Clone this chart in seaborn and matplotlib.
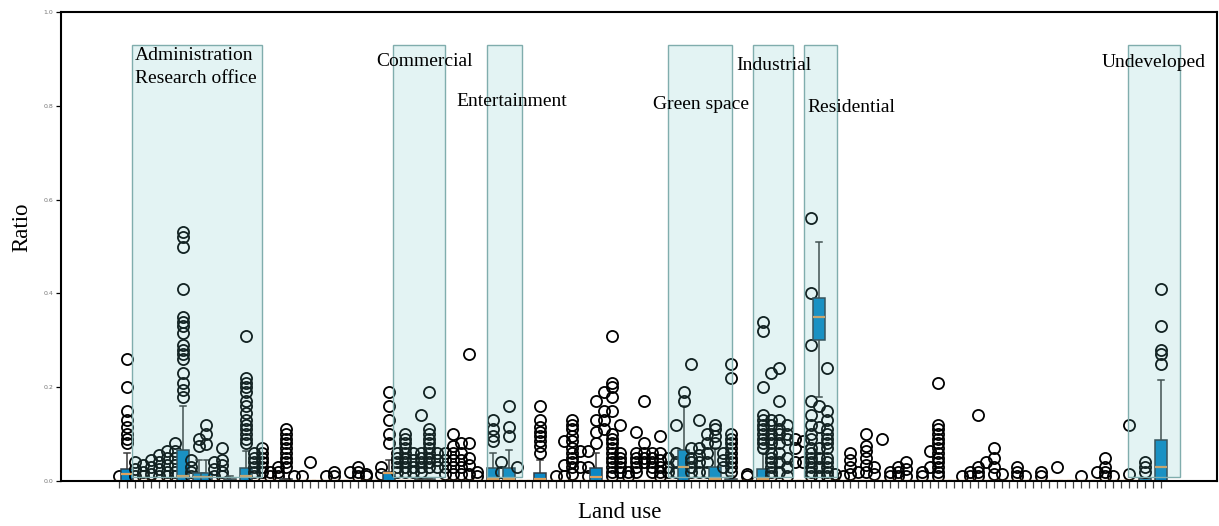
import numpy as np
import pandas as pd
import matplotlib
matplotlib.use("Agg")
import matplotlib.pyplot as plt
from matplotlib.patches import Rectangle
import seaborn as sns

# ---------------------------------------------------------------- data
n_types = 132  # land-use sub-types along the x axis

# sub-types with a visible box: index -> (q1, median, q3, lower whisker, upper whisker)
box_stats = {
    1: (0.0, 0.015, 0.026, 0.0, 0.06),
    8: (0.0, 0.01, 0.066, 0.0, 0.16),
    10: (0.0, 0.008, 0.018, 0.0, 0.044),
    11: (0.0, 0.008, 0.018, 0.0, 0.044),
    14: (0.0, 0.0, 0.005, 0.0, 0.005),
    16: (0.0, 0.01, 0.028, 0.0, 0.065),
    21: (0.0, 0.0, 0.005, 0.0, 0.005),
    34: (0.0, 0.016, 0.02, 0.0, 0.045),
    38: (0.0, 0.0, 0.005, 0.0, 0.005),
    39: (0.0, 0.0, 0.005, 0.0, 0.005),
    47: (0.0, 0.005, 0.028, 0.0, 0.06),
    49: (0.0, 0.005, 0.028, 0.0, 0.066),
    53: (0.0, 0.005, 0.018, 0.0, 0.044),
    60: (0.0, 0.008, 0.028, 0.0, 0.06),
    71: (0.0, 0.03, 0.066, 0.0, 0.16),
    75: (0.0, 0.005, 0.03, 0.0, 0.07),
    77: (0.0, 0.0, 0.005, 0.0, 0.01),
    81: (0.0, 0.005, 0.025, 0.0, 0.06),
    88: (0.30, 0.35, 0.39, 0.18, 0.51),
    129: (0.0, 0.0, 0.006, 0.0, 0.006),
    131: (0.0, 0.03, 0.088, 0.0, 0.215),
}

# outlying ratios of each sub-type
outliers = {
    0: [0.01],
    1: [0.26, 0.20, 0.15, 0.13, 0.115, 0.10, 0.09, 0.08],
    2: [0.04, 0.025, 0.01],
    3: [0.035, 0.02, 0.01],
    4: [0.045, 0.03, 0.015],
    5: [0.055, 0.04, 0.025, 0.01],
    6: [0.065, 0.05, 0.035, 0.02, 0.01],
    7: [0.08, 0.065, 0.05, 0.035, 0.02, 0.01],
    8: [0.53, 0.52, 0.50, 0.41, 0.35, 0.34, 0.33, 0.315, 0.29, 0.28, 0.27,
        0.26, 0.23, 0.21, 0.195, 0.18],
    9: [0.045, 0.03, 0.02, 0.01],
    10: [0.09, 0.075],
    11: [0.12, 0.10, 0.078],
    12: [0.04, 0.025, 0.01],
    13: [0.07, 0.045, 0.035, 0.02, 0.01],
    14: [0.01],
    16: [0.31, 0.22, 0.21, 0.20, 0.19, 0.17, 0.16, 0.145, 0.13, 0.12, 0.11,
         0.10, 0.09, 0.08],
    17: [0.06, 0.05, 0.04, 0.03, 0.02, 0.01],
    18: [0.07, 0.06, 0.05, 0.04, 0.03, 0.02],
    19: [0.02, 0.01],
    20: [0.03, 0.02, 0.01],
    21: [0.11, 0.10, 0.09, 0.08, 0.07, 0.06, 0.05, 0.04, 0.03],
    22: [0.01],
    23: [0.01],
    24: [0.04],
    26: [0.01],
    27: [0.02, 0.01],
    29: [0.02],
    30: [0.03, 0.02, 0.01],
    31: [0.015, 0.01],
    33: [0.03, 0.015],
    34: [0.19, 0.16, 0.13, 0.10, 0.08],
    35: [0.06, 0.05, 0.04, 0.03, 0.02],
    36: [0.10, 0.09, 0.08, 0.07, 0.06, 0.05, 0.04, 0.03, 0.02],
    37: [0.06, 0.045, 0.03, 0.02],
    38: [0.14, 0.06, 0.05, 0.04, 0.03, 0.02],
    39: [0.19, 0.11, 0.10, 0.09, 0.08, 0.07, 0.06, 0.05, 0.04, 0.03],
    40: [0.06, 0.045, 0.03],
    41: [0.06, 0.045, 0.03, 0.015],
    42: [0.10, 0.075, 0.06, 0.045, 0.03, 0.015],
    43: [0.08, 0.06, 0.045, 0.03, 0.015],
    44: [0.27, 0.08, 0.05, 0.035, 0.015],
    45: [0.02, 0.01],
    47: [0.13, 0.11, 0.095, 0.085],
    48: [0.04, 0.02],
    49: [0.16, 0.115, 0.095],
    50: [0.03],
    53: [0.16, 0.13, 0.115, 0.105, 0.095, 0.085, 0.075, 0.06],
    55: [0.01],
    56: [0.085, 0.035, 0.01],
    57: [0.13, 0.12, 0.11, 0.095, 0.085, 0.07, 0.06, 0.05, 0.04, 0.03, 0.015],
    58: [0.065, 0.03],
    59: [0.065, 0.03, 0.01],
    60: [0.17, 0.13, 0.105, 0.08],
    61: [0.19, 0.15, 0.13, 0.11],
    62: [0.31, 0.21, 0.20, 0.18, 0.15, 0.10, 0.09, 0.08, 0.07, 0.06, 0.05,
         0.04, 0.03, 0.02, 0.01],
    63: [0.12, 0.06, 0.05, 0.04, 0.03, 0.02],
    64: [0.02, 0.01],
    65: [0.105, 0.06, 0.05, 0.04, 0.03, 0.02],
    66: [0.17, 0.08, 0.06, 0.05, 0.04],
    67: [0.06, 0.05, 0.04, 0.03, 0.02],
    68: [0.095, 0.06, 0.045, 0.03, 0.02, 0.01],
    69: [0.05, 0.03, 0.02],
    70: [0.12, 0.06, 0.04, 0.02],
    71: [0.19, 0.17],
    72: [0.25, 0.07, 0.05, 0.04, 0.03, 0.02],
    73: [0.13, 0.07, 0.055, 0.04, 0.02],
    74: [0.10, 0.08, 0.06, 0.04, 0.02],
    75: [0.12, 0.11, 0.095, 0.08],
    76: [0.06, 0.045, 0.03],
    77: [0.25, 0.22, 0.10, 0.09, 0.08, 0.07, 0.06, 0.05, 0.04, 0.03, 0.02],
    79: [0.015, 0.01],
    81: [0.34, 0.32, 0.20, 0.14, 0.13, 0.12, 0.11, 0.10, 0.09, 0.08, 0.07],
    82: [0.23, 0.13, 0.12, 0.10, 0.09, 0.08, 0.06, 0.05, 0.04, 0.03, 0.02, 0.01],
    83: [0.24, 0.17, 0.13, 0.11, 0.10, 0.08, 0.06, 0.04, 0.02],
    84: [0.12, 0.10, 0.09, 0.05, 0.03, 0.01],
    85: [0.09, 0.07, 0.04],
    86: [0.085, 0.04],
    87: [0.56, 0.40, 0.29, 0.17, 0.14, 0.12, 0.10, 0.09, 0.07, 0.06, 0.05,
         0.04, 0.03, 0.02, 0.01],
    88: [0.16, 0.115, 0.07, 0.05, 0.03, 0.01],
    89: [0.24, 0.15, 0.13, 0.11, 0.10, 0.09, 0.08, 0.07, 0.05, 0.04, 0.03,
         0.02, 0.01],
    90: [0.015],
    91: [0.01],
    92: [0.06, 0.045, 0.03, 0.015],
    93: [0.02],
    94: [0.10, 0.075, 0.065, 0.05, 0.035, 0.02],
    95: [0.03, 0.015],
    96: [0.09],
    97: [0.02, 0.01],
    98: [0.03, 0.02, 0.01],
    99: [0.04, 0.025, 0.01],
    101: [0.02, 0.01],
    102: [0.065, 0.03],
    103: [0.21, 0.12, 0.11, 0.10, 0.09, 0.08, 0.07, 0.06, 0.05, 0.04, 0.03,
          0.02, 0.01],
    106: [0.01],
    107: [0.02, 0.01],
    108: [0.14, 0.03, 0.02, 0.01],
    109: [0.04],
    110: [0.07, 0.05, 0.03, 0.015],
    111: [0.015],
    113: [0.03, 0.02, 0.01],
    114: [0.01],
    116: [0.02, 0.01],
    118: [0.03],
    121: [0.01],
    123: [0.02],
    124: [0.05, 0.03, 0.02, 0.01],
    125: [0.01],
    127: [0.12, 0.015],
    129: [0.04, 0.03, 0.02],
    131: [0.41, 0.33, 0.28, 0.27, 0.25],
}

# highlighted land-use groups: label, span of sub-types, label anchor
zone_labels = ["Administration\nResearch office", "Commercial", "Entertainment",
               "Green space", "Industrial", "Residential", "Undeveloped"]
zone_start = [1.64, 34.47, 46.3, 69.07, 79.75, 86.16, 126.9]
zone_end = [17.99, 41.0, 50.7, 77.1, 84.8, 90.3, 133.5]
label_x = [2.0, 38.4, 49.4, 73.2, 82.3, 92.1, 130.1]
label_y = [0.883, 0.894, 0.809, 0.803, 0.886, 0.796, 0.892]
label_ha = ["left", "center", "center", "center", "center", "center", "center"]


def sub_type_sample(i):
    """Observations of one sub-type: blocks at the quartiles plus tail values."""
    q1, med, q3, lo, hi = box_stats.get(i, (0.0, 0.0, 0.0, 0.0, 0.0))
    tails = [v for v in (lo, hi) if v < q1 or v > q3] + list(outliers.get(i, []))
    k = 4 * len(tails) + 4
    return [q1] * k + [med] * k + [q3] * k + tails


rows = [(i, v) for i in range(n_types) for v in sub_type_sample(i)]
df = pd.DataFrame(rows, columns=["type", "ratio"])

# ---------------------------------------------------------------- figure
serif = "Liberation Serif"
fig = plt.figure(figsize=(12.19, 5.26), dpi=100)
ax = fig.add_axes([61 / 1219, 45 / 526, 1156 / 1219, 469 / 526])

sns.boxplot(
    data=df, x="type", y="ratio", order=list(range(n_types)), ax=ax,
    width=1.5, color="#0a87c4", saturation=1, linecolor="#2f3d47", linewidth=1.1,
    flierprops=dict(marker="o", markersize=8, markerfacecolor="none",
                    markeredgecolor="black", markeredgewidth=1.3),
    medianprops=dict(color="#dda15e", linewidth=1.6),
    whiskerprops=dict(color="#3a3a3a", linewidth=1.1),
    capprops=dict(color="#3a3a3a", linewidth=1.1),
)

for lab, x0, x1, tx, ty, ha in zip(zone_labels, zone_start, zone_end,
                                   label_x, label_y, label_ha):
    ax.add_patch(Rectangle((x0, 0.0085), x1 - x0, 0.93 - 0.0085,
                           facecolor=(0.40, 0.75, 0.75, 0.18),
                           edgecolor=(0.50, 0.68, 0.68), linewidth=1.0, zorder=5))
    ax.text(tx, ty, lab, ha=ha, va="center", fontsize=14, family=serif,
            linespacing=1.45, zorder=6)

ax.set_xlim(-7.3, 138.1)
ax.set_ylim(0, 1)
ax.set_yticks(np.arange(0, 1.01, 0.2))
ax.set_yticklabels([f"{v:.1f}" for v in np.arange(0, 1.01, 0.2)])
ax.tick_params(axis="y", labelsize=4.5, labelcolor="#777777", length=3.5,
               width=0.9, pad=2)
ax.tick_params(axis="x", length=5, width=0.9, color="#444444", labelbottom=False)

for s in ax.spines.values():
    s.set_visible(True)
    s.set_color("black")
    s.set_linewidth(1.5)

ax.set_xlabel("Land use", fontsize=16.5, family=serif)
ax.set_ylabel("Ratio", fontsize=16.5, family=serif)
ax.xaxis.set_label_coords(0.4836, -0.045)
ax.yaxis.set_label_coords(-0.025, 0.54)

fig.savefig("out.png", dpi=100)
